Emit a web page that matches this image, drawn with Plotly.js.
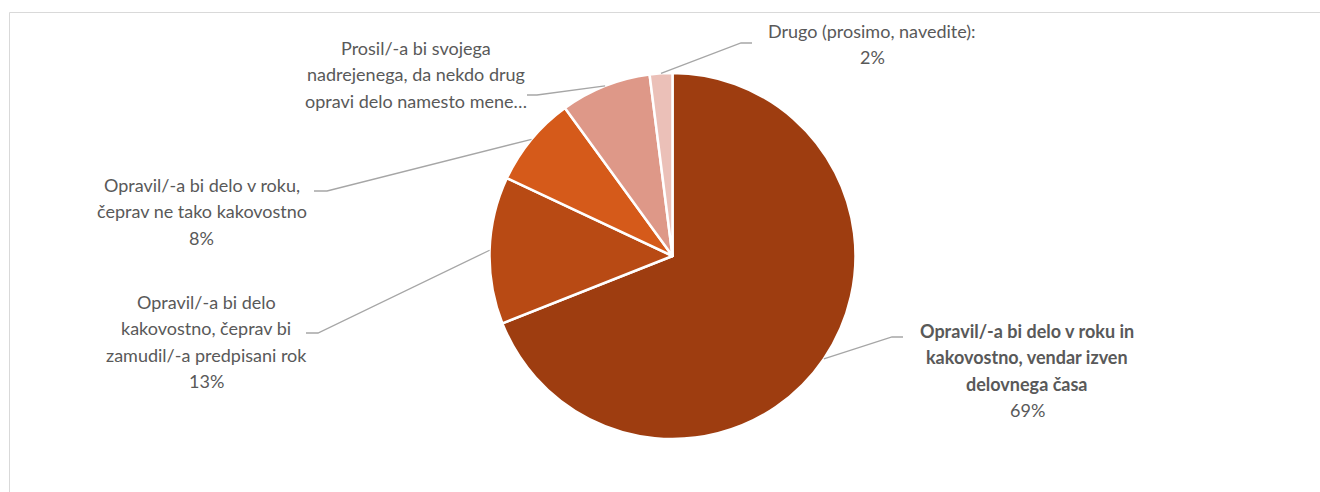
<!DOCTYPE html>
<html>
<head>
<meta charset="utf-8">
<script src="https://cdn.plot.ly/plotly-3.0.1.min.js"></script>
<style>html,body{margin:0;padding:0;background:#fff;}#chart{width:1320px;height:492px;}</style>
</head>
<body>
<div id="chart"></div>
<script>
const categories = [
  "Opravil/-a bi delo v roku in kakovostno, vendar izven delovnega časa",
  "Opravil/-a bi delo kakovostno, čeprav bi zamudil/-a predpisani rok",
  "Opravil/-a bi delo v roku, čeprav ne tako kakovostno",
  "Prosil/-a bi svojega nadrejenega, da nekdo drug opravi delo namesto mene…",
  "Drugo (prosimo, navedite):"
];
const values = [69, 13, 8, 8, 2];
const labelLines = [
  ["Opravil/-a bi delo v roku in", "kakovostno, vendar izven", "delovnega časa"],
  ["Opravil/-a bi delo", "kakovostno, čeprav bi", "zamudil/-a predpisani rok"],
  ["Opravil/-a bi delo v roku,", "čeprav ne tako kakovostno"],
  ["Prosil/-a bi svojega", "nadrejenega, da nekdo drug", "opravi delo namesto mene…"],
  ["Drugo (prosimo, navedite):"]
];
const showPct = [true, true, true, false, true];
const colors = ["#9E3D10", "#B84A14", "#D55A1A", "#DE9888", "#EBC0B8"];

// layout constants (pixels)
const W = 1320, H = 492;
const CX = 672.5, CY = 256, R = 183;
const labelPos = [
  {cx: 1027, y0: 331, elbow: [892, 337], end: [903, 337], bold: true},
  {cx: 206, y0: 302, elbow: [318, 333], end: [306, 333]},
  {cx: 202, y0: 185, elbow: [327, 191], end: [314, 191]},
  {cx: 416, y0: 48, elbow: [537, 95], end: [527, 95]},
  {cx: 872, y0: 31, elbow: [741, 43], end: [752, 43]}
];
const LINE_H = 26.3;
const FONT = "Lato, 'Open Sans', sans-serif";
const FS = 18;
const TXT = "#595959";

const px = x => x / W;
const py = y => 1 - y / H;

const total = values.reduce((a, b) => a + b, 0);
const annotations = [];
const shapes = [];
let cum = 0;
values.forEach((v, i) => {
  const mid = (cum + v / 2) / total * 2 * Math.PI;
  cum += v;
  const ex = CX + R * Math.sin(mid);
  const ey = CY - R * Math.cos(mid);
  const lp = labelPos[i];
  shapes.push({
    type: "path", xref: "paper", yref: "paper",
    path: `M ${px(ex)} ${py(ey)} L ${px(lp.elbow[0])} ${py(lp.elbow[1])} L ${px(lp.end[0])} ${py(lp.end[1])}`,
    line: {color: "#A6A6A6", width: 1.3}
  });
  const lines = labelLines[i].slice();
  if (showPct[i]) lines.push(Math.round(v / total * 100) + "%");
  lines.forEach((t, k) => {
    const isPct = showPct[i] && k === lines.length - 1;
    annotations.push({
      xref: "paper", yref: "paper",
      x: px(lp.cx), y: py(lp.y0 + k * LINE_H),
      xanchor: "center", yanchor: "middle",
      showarrow: false,
      text: (lp.bold && !isPct) ? "<b>" + t + "</b>" : t,
      font: {family: FONT, size: FS, color: TXT}
    });
  });
});

shapes.push({
  type: "rect", xref: "paper", yref: "paper",
  x0: px(9.5), x1: 1.2, y0: -0.2, y1: py(12.5),
  line: {color: "#D9D9D9", width: 1}, layer: "below"
});

const trace = {
  type: "pie",
  labels: categories,
  values: values,
  sort: false,
  direction: "clockwise",
  rotation: 0,
  textinfo: "none",
  hoverinfo: "label+percent",
  marker: {colors: colors, line: {color: "#FFFFFF", width: 2.5}},
  domain: {x: [px(CX - R), px(CX + R)], y: [py(CY + R), py(CY - R)]},
  showlegend: false
};

const layout = {
  width: W, height: H,
  margin: {l: 0, r: 0, t: 0, b: 0},
  paper_bgcolor: "#FFFFFF",
  showlegend: false,
  annotations: annotations,
  shapes: shapes
};

Plotly.newPlot("chart", [trace], layout, {displayModeBar: false, staticPlot: true});
</script>
</body>
</html>
